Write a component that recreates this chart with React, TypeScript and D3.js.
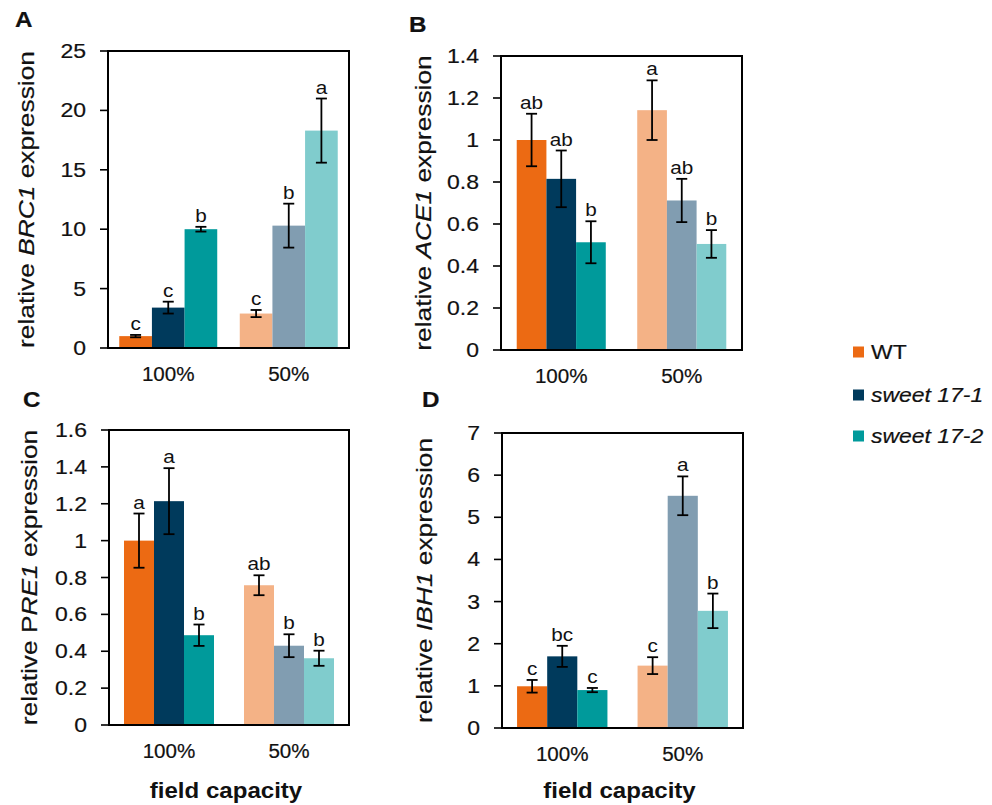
import React from 'react';
import * as d3 from 'd3';

const CATEGORIES = ['100%', '50%'];
const SERIES = ['WT', 'sweet 17-1', 'sweet 17-2'];
const COLORS_100 = ['#ec6a13', '#003a5c', '#009a9b'];
const COLORS_50 = ['#f4b286', '#819db1', '#80cccd'];

// values per category (100%, 50%), per series (WT, 17-1, 17-2)
const BRC1_MEAN = [[1.0, 3.4, 10.0], [2.9, 10.3, 18.3]];
const BRC1_ERR = [[0.1, 0.5, 0.2], [0.3, 1.85, 2.7]];
const BRC1_LETTERS = [['c', 'c', 'b'], ['c', 'b', 'a']];
const BRC1_TICKS = [0, 5, 10, 15, 20, 25];

const ACE1_MEAN = [[1.0, 0.815, 0.513], [1.142, 0.712, 0.505]];
const ACE1_ERR = [[0.125, 0.135, 0.1], [0.142, 0.103, 0.066]];
const ACE1_LETTERS = [['ab', 'ab', 'b'], ['a', 'ab', 'b']];
const ACE1_TICKS = [0, 0.2, 0.4, 0.6, 0.8, 1, 1.2, 1.4];

const PRE1_MEAN = [[1.0, 1.214, 0.487], [0.758, 0.43, 0.362]];
const PRE1_ERR = [[0.147, 0.179, 0.058], [0.054, 0.062, 0.041]];
const PRE1_LETTERS = [['a', 'a', 'b'], ['ab', 'b', 'b']];
const PRE1_TICKS = [0, 0.2, 0.4, 0.6, 0.8, 1, 1.2, 1.4, 1.6];

const IBH1_MEAN = [[0.99, 1.7, 0.9], [1.48, 5.51, 2.78]];
const IBH1_ERR = [[0.15, 0.25, 0.05], [0.2, 0.46, 0.41]];
const IBH1_LETTERS = [['c', 'bc', 'c'], ['c', 'a', 'b']];
const IBH1_TICKS = [0, 1, 2, 3, 4, 5, 6, 7];

const FONT = '"Liberation Sans", Arial, sans-serif';
const INK = '#111';

function Txt({ x, y, size, anchor = 'start', rotate = 0, sx = 1.15, weight = 'normal', dy, sw = 0.2, children }: any) {
  return (
    <text
      transform={`translate(${x},${y}) rotate(${rotate}) scale(${sx},1)`}
      fontSize={size}
      fontFamily={FONT}
      fontWeight={weight}
      textAnchor={anchor}
      dy={dy}
      fill={INK}
      stroke={sw > 0 ? INK : 'none'}
      strokeWidth={sw}
    >
      {children}
    </text>
  );
}

interface PanelProps {
  letter: string;
  letterPos: [number, number];
  box: [number, number, number, number]; // x0, y0, x1, y1
  maxY: number;
  ticks: number[];
  groupPad: number;
  means: number[][];
  errs: number[][];
  letters: string[][];
  titlePre: string;
  titleItalic: string;
  titleX: number;
  showXTitle: boolean;
}

function Panel(p: PanelProps) {
  const [x0, y0, x1, y1] = p.box;
  const y = d3.scaleLinear().domain([0, p.maxY]).range([y1, y0]);
  const x = d3
    .scaleBand<string>()
    .domain(CATEGORIES)
    .range([x0, x1])
    .paddingInner(p.groupPad)
    .paddingOuter(p.groupPad / 2);
  const xs = d3.scaleBand<number>().domain([0, 1, 2]).range([0, x.bandwidth()]);
  const cy = (y0 + y1) / 2;

  return (
    <g>
      <Txt x={p.letterPos[0]} y={p.letterPos[1]} size={22} weight="bold" sx={1.1}>
        {p.letter}
      </Txt>

      {CATEGORIES.map((cat, ci) =>
        SERIES.map((s, si) => {
          const m = p.means[ci][si];
          const e = p.errs[ci][si];
          const bx = (x(cat) as number) + (xs(si) as number);
          const bw = xs.bandwidth();
          const mid = bx + bw / 2;
          return (
            <g key={cat + s}>
              <rect
                x={bx}
                y={y(m)}
                width={bw}
                height={y(0) - y(m)}
                fill={ci === 0 ? COLORS_100[si] : COLORS_50[si]}
              />
              <g stroke="#000" strokeWidth={1.8}>
                <line x1={mid} x2={mid} y1={y(m + e)} y2={y(m - e)} />
                <line x1={mid - 5.5} x2={mid + 5.5} y1={y(m + e)} y2={y(m + e)} />
                <line x1={mid - 5.5} x2={mid + 5.5} y1={y(m - e)} y2={y(m - e)} />
              </g>
              <Txt x={mid} y={y(m + e) - 5} size={18.5} anchor="middle" sx={1.12} sw={0}>
                {p.letters[ci][si]}
              </Txt>
            </g>
          );
        })
      )}

      <rect x={x0} y={y0} width={x1 - x0} height={y1 - y0} fill="none" stroke="#000" strokeWidth={2} />

      {p.ticks.map((t) => (
        <g key={t}>
          <line x1={x0 - 8} x2={x0} y1={y(t)} y2={y(t)} stroke="#000" strokeWidth={1.6} />
          <Txt x={x0 - 22} y={y(t)} size={20} anchor="end" dy="0.35em" sx={1.15}>
            {String(t)}
          </Txt>
        </g>
      ))}

      {CATEGORIES.map((cat) => (
        <Txt key={cat} x={(x(cat) as number) + x.bandwidth() / 2} y={y1 + 33} size={20} anchor="middle" sx={1.03}>
          {cat}
        </Txt>
      ))}

      <Txt x={p.titleX} y={cy} size={22.5} anchor="middle" rotate={-90} sx={1.17}>
        {p.titlePre}
        <tspan fontStyle="italic">{p.titleItalic}</tspan>
        {' expression'}
      </Txt>

      {p.showXTitle && (
        <Txt x={(x0 + x1) / 2 - 3} y={798} size={21.5} anchor="middle" weight="bold" sx={1.12} sw={0}>
          field capacity
        </Txt>
      )}
    </g>
  );
}

export default function App() {
  const legendY = [352, 395, 436];
  return (
    <svg width={992} height={805} style={{ position: 'absolute', left: 0, top: 0, background: '#fff' }}>
      <Panel
        letter="A"
        letterPos={[15, 27]}
        box={[108, 51, 349, 348]}
        maxY={25}
        ticks={BRC1_TICKS}
        groupPad={0.187}
        means={BRC1_MEAN}
        errs={BRC1_ERR}
        letters={BRC1_LETTERS}
        titlePre="relative "
        titleItalic="BRC1"
        titleX={34}
        showXTitle={false}
      />
      <Panel
        letter="B"
        letterPos={[409, 32]}
        box={[501, 56, 742, 350]}
        maxY={1.4}
        ticks={ACE1_TICKS}
        groupPad={0.261}
        means={ACE1_MEAN}
        errs={ACE1_ERR}
        letters={ACE1_LETTERS}
        titlePre="relative "
        titleItalic="ACE1"
        titleX={431}
        showXTitle={false}
      />
      <Panel
        letter="C"
        letterPos={[23, 407]}
        box={[109, 430, 349, 725]}
        maxY={1.6}
        ticks={PRE1_TICKS}
        groupPad={0.25}
        means={PRE1_MEAN}
        errs={PRE1_ERR}
        letters={PRE1_LETTERS}
        titlePre="relative P"
        titleItalic="RE1"
        titleX={37}
        showXTitle={true}
      />
      <Panel
        letter="D"
        letterPos={[422, 407]}
        box={[502, 433, 743, 728]}
        maxY={7}
        ticks={IBH1_TICKS}
        groupPad={0.25}
        means={IBH1_MEAN}
        errs={IBH1_ERR}
        letters={IBH1_LETTERS}
        titlePre="relative "
        titleItalic="IBH1"
        titleX={432}
        showXTitle={true}
      />

      {SERIES.map((s, i) => (
        <g key={s}>
          <rect x={853} y={legendY[i] - 5.5} width={11} height={11} fill={COLORS_100[i]} />
          <text
            transform={`translate(871,${legendY[i] + 7}) scale(1.12,1)`}
            fontSize={20.5}
            fontFamily={FONT}
            fontStyle={i === 0 ? 'normal' : 'italic'}
            fill={INK}
            stroke={INK}
            strokeWidth={0.2}
          >
            {s}
          </text>
        </g>
      ))}
    </svg>
  );
}
